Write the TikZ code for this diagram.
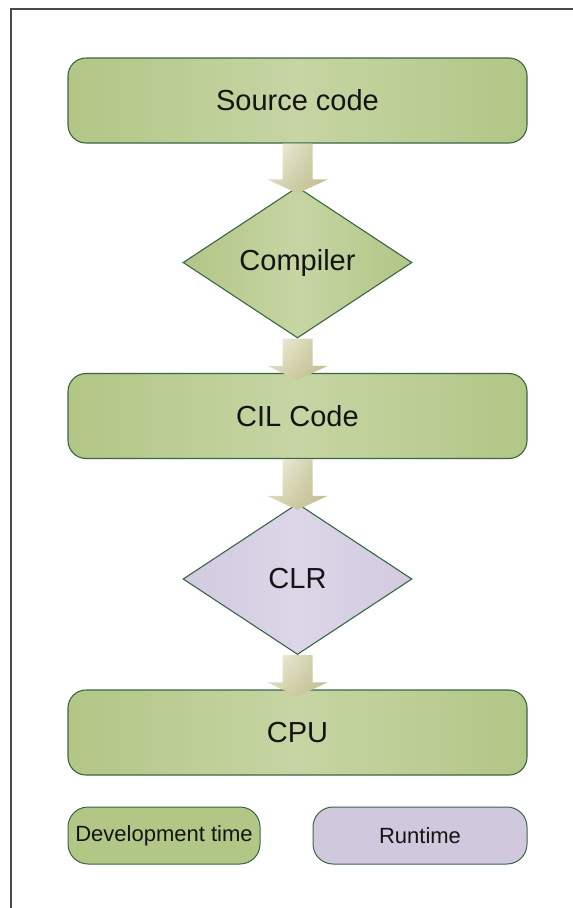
\documentclass[tikz,border=0pt]{standalone}
\usepackage{fontspec}
\setmainfont{Liberation Sans}
\usetikzlibrary{shapes.geometric,calc,shadings}
\definecolor{gL}{HTML}{B2C686}
\definecolor{gM}{HTML}{C6D5A3}
\definecolor{pL}{HTML}{D2CADF}
\definecolor{pM}{HTML}{DCD6E8}
\definecolor{bord}{HTML}{3A6646}
\definecolor{legG}{HTML}{B2C686}
\definecolor{legP}{HTML}{D0C9DE}
\definecolor{frame}{HTML}{4A4A4A}
\definecolor{aUL}{HTML}{F4F4E6}
\definecolor{aUR}{HTML}{C8C69C}
\definecolor{aLL}{HTML}{D6D4B0}
\definecolor{aLR}{HTML}{BEBB8C}
\pgfdeclarelayer{bg}
\pgfdeclarelayer{mid}
\pgfdeclarelayer{fg}
\pgfsetlayers{bg,mid,main,fg}
\tikzset{
  x=1pt, y=-1pt,
  stagebox/.style={draw=bord, line width=1.1pt, rounded corners=18pt,
    minimum width=459pt, minimum height=85pt, inner sep=0pt,
    left color=gL, right color=gL, middle color=gM,
    font=\fontsize{29}{32}\selectfont, text=black!92},
  decide/.style={diamond, draw=bord, line width=1.1pt, inner sep=0pt,
    minimum width=229pt, minimum height=151pt,
    font=\fontsize{29}{32}\selectfont, text=black!92},
  greendec/.style={decide, left color=gL, right color=gL, middle color=gM},
  purpledec/.style={decide, left color=pL, right color=pL, middle color=pM},
  legend/.style={draw=bord, line width=1pt, rounded corners=20pt,
    minimum height=57pt, inner sep=0pt,
    font=\fontsize{22}{25}\selectfont, text=black!92},
  arrowshade/.style={upper left=aUL, upper right=aUR,
    lower left=aLL, lower right=aLR}
}
\newcommand{\fatarrow}[3]{%
  \shade[arrowshade] ($(#1.south)+(-15,0)$) -- ($(#2.north)+(-15,#3-14)$)
    -- ($(#2.north)+(-30,#3-14)$) -- ($(#2.north)+(0,#3)$)
    -- ($(#2.north)+(30,#3-14)$) -- ($(#2.north)+(15,#3-14)$)
    -- ($(#1.south)+(15,0)$) -- cycle;}
\begin{document}
\begin{tikzpicture}
\useasboundingbox (0,0) rectangle (573,908);
\begin{pgfonlayer}{bg}
\fill[white] (0,0) rectangle (573,908);
\draw[frame, line width=2pt] (11,908) -- (11,9) -- (573,9);
\node[stagebox] (src) at (297.5,100.5) {Source code};
\node[stagebox] (cil) at (297.5,416) {CIL Code};
\node[stagebox] (cpu) at (297.5,732.5) {CPU};
\end{pgfonlayer}

\node[greendec] (comp) at (297.5,262.5) {Compiler};
\node[purpledec] (clr) at (297.5,579) {CLR};

\begin{pgfonlayer}{mid}
\fatarrow{comp}{cil}{7}
\fatarrow{clr}{cpu}{7}
\end{pgfonlayer}

\begin{pgfonlayer}{fg}
\fatarrow{src}{comp}{7}
\fatarrow{cil}{clr}{7}
\end{pgfonlayer}

\node[legend, fill=legG, minimum width=192pt] (dev) at (164,835.5) {Development time};
\node[legend, fill=legP, minimum width=214pt] (run) at (420,835.5) {Runtime};
\end{tikzpicture}
\end{document}
